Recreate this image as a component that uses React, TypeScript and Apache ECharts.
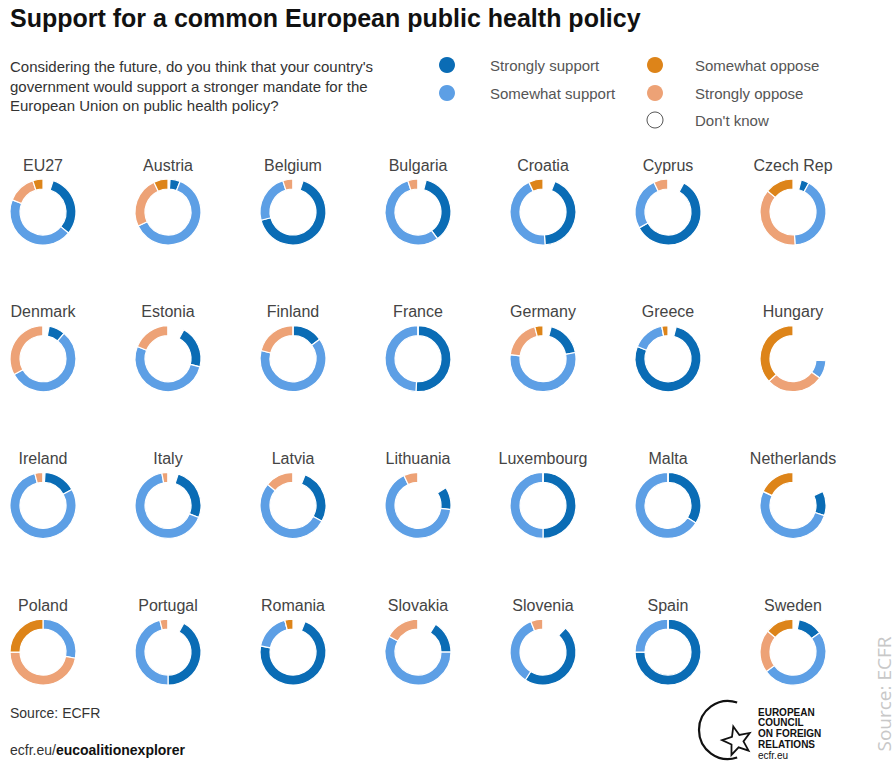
import React, { useEffect, useRef } from "react";
import * as echarts from "echarts";

const countries = [
  "EU27", "Austria", "Belgium", "Bulgaria", "Croatia", "Cyprus", "Czech Rep",
  "Denmark", "Estonia", "Finland", "France", "Germany", "Greece", "Hungary",
  "Ireland", "Italy", "Latvia", "Lithuania", "Luxembourg", "Malta", "Netherlands",
  "Poland", "Portugal", "Romania", "Slovakia", "Slovenia", "Spain", "Sweden",
];

const dontKnow = [5, 1, 5, 4, 6, 8, 4, 3, 8, 0, 0, 4, 4, 26, 1, 5, 6, 16, 0, 0, 18, 0, 8, 6, 9, 12, 0, 3];
const stronglySupport = [31, 5, 66, 36, 43, 59, 4, 8, 21, 15, 51, 18, 77, 0, 16, 26, 27, 11, 50, 34, 12, 0, 42, 72, 16, 47, 75, 12];
const somewhatSupport = [45, 62, 24, 55, 44, 26, 41, 56, 52, 64, 49, 55, 16, 9, 79, 66, 53, 66, 50, 66, 52, 28, 46, 18, 58, 35, 25, 50];
const stronglyOppose = [14, 25, 5, 5, 0, 7, 37, 33, 19, 21, 0, 19, 0, 28, 4, 3, 14, 7, 0, 0, 0, 47, 4, 0, 17, 6, 0, 21];
const somewhatOppose = [5, 7, 0, 0, 7, 0, 14, 0, 0, 0, 0, 4, 3, 37, 0, 0, 0, 0, 0, 0, 18, 25, 0, 4, 0, 0, 0, 14];

const categoryNames = ["Strongly support", "Somewhat support", "Strongly oppose", "Somewhat oppose", "Don't know"];

const C_SS = "#0a6cb5";
const C_SOS = "#5d9fe5";
const C_STO = "#eda276";
const C_SOO = "#dd8419";

const FONT = "'Liberation Sans', Arial, sans-serif";

export default function App() {
  const ref = useRef<HTMLDivElement>(null);

  useEffect(() => {
    if (!ref.current) return;
    const chart = echarts.init(ref.current, null, { renderer: "svg" });

    const COL0 = 43, COLW = 125, ROW0 = 212, ROWH = 146.7;
    const pos = (i: number) => [COL0 + COLW * (i % 7), ROW0 + ROWH * Math.floor(i / 7)];

    const series = countries.map((name, i) => ({
      type: "pie",
      name,
      center: pos(i),
      radius: [23, 33],
      startAngle: 90,
      clockwise: true,
      silent: true,
      animation: false,
      label: { show: false },
      labelLine: { show: false },
      emphasis: { disabled: true },
      itemStyle: { borderColor: "#ffffff", borderWidth: 1.2 },
      data: [
        { name: categoryNames[4], value: dontKnow[i], itemStyle: { color: "rgba(0,0,0,0)", borderWidth: 0 } },
        { name: categoryNames[0], value: stronglySupport[i], itemStyle: { color: C_SS } },
        { name: categoryNames[1], value: somewhatSupport[i], itemStyle: { color: C_SOS } },
        { name: categoryNames[2], value: stronglyOppose[i], itemStyle: { color: C_STO } },
        { name: categoryNames[3], value: somewhatOppose[i], itemStyle: { color: C_SOO } },
      ],
    }));

    const labels = countries.map((name, i) => {
      const [x, y] = pos(i);
      return {
        type: "text",
        x,
        y: y - 47,
        silent: true,
        style: {
          text: name,
          fill: "#444",
          fontSize: 16,
          fontFamily: FONT,
          textAlign: "center",
          textVerticalAlign: "middle",
        },
      };
    });

    const legendItems = [
      { name: categoryNames[0], color: C_SS, cx: 447, cy: 65, tx: 490 },
      { name: categoryNames[1], color: C_SOS, cx: 447, cy: 93, tx: 490 },
      { name: categoryNames[3], color: C_SOO, cx: 655, cy: 65, tx: 695 },
      { name: categoryNames[2], color: C_STO, cx: 655, cy: 93, tx: 695 },
      { name: categoryNames[4], color: "#ffffff", cx: 655, cy: 120, tx: 695 },
    ];
    const legend: any[] = [];
    legendItems.forEach((it) => {
      legend.push({
        type: "circle",
        shape: { cx: it.cx, cy: it.cy, r: 8 },
        silent: true,
        style: it.color === "#ffffff" ? { fill: "#fff", stroke: "#555", lineWidth: 1 } : { fill: it.color },
      });
      legend.push({
        type: "text",
        x: it.tx,
        y: it.cy,
        silent: true,
        style: { text: it.name, fill: "#555", fontSize: 15, fontFamily: FONT, textVerticalAlign: "middle" },
      });
    });

    const starPts: number[][] = [];
    const scx = 737, scy = 741;
    for (let k = 0; k < 10; k++) {
      const r = k % 2 === 0 ? 15 : 6.5;
      const a = -Math.PI / 2 + (k * Math.PI) / 5 - 0.25;
      starPts.push([scx + r * Math.cos(a), scy + r * Math.sin(a)]);
    }

    const logoLines = ["EUROPEAN", "COUNCIL", "ON FOREIGN", "RELATIONS"];
    const logo: any[] = [
      {
        type: "arc",
        silent: true,
        shape: { cx: 728, cy: 730, r: 29, startAngle: -1.25, endAngle: 1.25, clockwise: false },
        style: { stroke: "#111", lineWidth: 2.2, fill: null },
      },
      {
        type: "polygon",
        silent: true,
        shape: { points: starPts },
        style: { stroke: "#111", lineWidth: 1.8, fill: "#fff" },
      },
      ...logoLines.map((t, k) => ({
        type: "text",
        x: 758,
        y: 712 + k * 10.7,
        silent: true,
        style: { text: t, fill: "#111", fontSize: 10, fontWeight: "bold", fontFamily: "'Liberation Sans Narrow', 'Liberation Sans', Arial, sans-serif", textVerticalAlign: "middle" },
      })),
      {
        type: "text",
        x: 758,
        y: 755,
        silent: true,
        style: { text: "ecfr.eu", fill: "#111", fontSize: 10, fontFamily: FONT, textVerticalAlign: "middle" },
      },
    ];

    const footer: any[] = [
      {
        type: "text",
        x: 10,
        y: 713,
        silent: true,
        style: { text: "Source: ECFR", fill: "#333", fontSize: 14, fontFamily: FONT, textVerticalAlign: "middle" },
      },
      {
        type: "text",
        x: 10,
        y: 750,
        silent: true,
        style: {
          text: "{a|ecfr.eu/}{b|eucoalitionexplorer}",
          fontSize: 14,
          fontFamily: FONT,
          textVerticalAlign: "middle",
          rich: {
            a: { fill: "#333", fontSize: 14, fontFamily: FONT },
            b: { fill: "#111", fontSize: 14, fontWeight: "bold", fontFamily: FONT },
          },
        },
      },
      {
        type: "text",
        x: 884,
        y: 694,
        rotation: Math.PI / 2,
        silent: true,
        style: { text: "Source: ECFR", fill: "#c8c8c8", fontSize: 19, fontFamily: "'Open Sans', sans-serif", textAlign: "center", textVerticalAlign: "middle" },
      },
    ];

    chart.setOption({
      animation: false,
      backgroundColor: "#ffffff",
      title: [
        {
          text: "Support for a common European public health policy",
          left: 10,
          top: 5,
          padding: 0,
          textStyle: { fontSize: 25, fontWeight: "bold", color: "#111", fontFamily: FONT },
        },
        {
          text: "Considering the future, do you think that your country's\ngovernment would support a stronger mandate for the\nEuropean Union on public health policy?",
          left: 10,
          top: 57,
          padding: 0,
          textStyle: { fontSize: 15, fontWeight: "normal", color: "#333", lineHeight: 19.5, fontFamily: FONT },
        },
      ],
      series,
      graphic: [...labels, ...legend, ...logo, ...footer],
    });

    return () => chart.dispose();
  }, []);

  return (
    <div
      ref={ref}
      style={{ position: "fixed", left: 0, top: 0, width: 896, height: 762, background: "#fff" }}
    />
  );
}
